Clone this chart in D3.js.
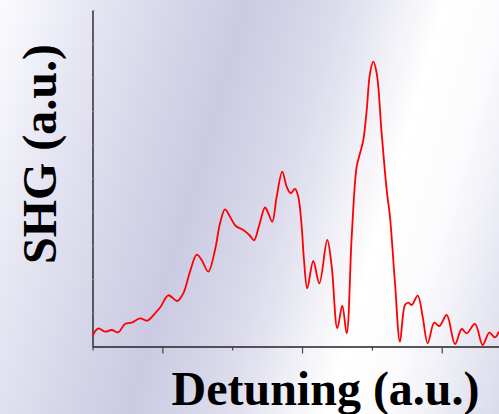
<!DOCTYPE html>
<html>
<head>
<meta charset="utf-8">
<script src="https://cdn.jsdelivr.net/npm/d3@7"></script>
<style>
  html, body { margin: 0; padding: 0; background: #fff; }
  svg { display: block; }
</style>
</head>
<body>
<div id="run"></div>
<script>
var width = 499,
    height = 414;

// detuning positions (a.u.) and SHG signal (a.u.)
var detuning = [0, 0.083, 0.179, 0.275, 0.369, 0.465, 0.561, 0.680, 0.785, 0.895,
    0.976, 1.085, 1.214, 1.300, 1.396, 1.492, 1.563, 1.658, 1.754, 1.826,
    1.897, 1.969, 2.050, 2.159, 2.245, 2.312, 2.388, 2.470, 2.517, 2.574,
    2.637, 2.717, 2.780, 2.838, 2.899, 2.946, 2.995, 3.028, 3.075, 3.161,
    3.247, 3.361, 3.425, 3.505, 3.576, 3.639, 3.711, 3.782, 3.830, 3.877,
    3.926, 3.973, 4.020, 4.069, 4.140, 4.212, 4.259, 4.331, 4.402, 4.474,
    4.521, 4.570, 4.656, 4.727, 4.799, 4.893, 4.965, 5.071, 5.190, 5.286,
    5.357, 5.476, 5.586, 5.681, 5.762, 5.820];

var shg = [0.327, 0.535, 0.440, 0.490, 0.422, 0.669, 0.707, 0.838, 0.767, 0.987,
    1.183, 1.522, 1.352, 1.581, 2.223, 2.728, 2.571, 2.223, 2.868, 3.661,
    4.077, 3.857, 3.581, 3.462, 3.314, 3.156, 3.611, 4.131, 3.958, 3.709,
    4.452, 5.195, 4.749, 4.553, 4.681, 4.452, 3.560, 2.571, 1.730, 2.541,
    1.878, 3.165, 2.371, 0.541, 1.212, 0.392, 3.263, 5.343, 5.741, 6.137,
    7.028, 8.119, 8.464, 8.119, 6.336, 4.651, 3.857, 1.878, 0.143, 1.233,
    1.302, 1.233, 1.510, 0.886, 0.095, 0.707, 0.609, 0.936, 0.074, 0.520,
    0.392, 0.669, 0.045, 0.410, 0.273, 0.440];

var majorTicks = [1, 3, 5],
    minorTicks = [0, 2, 4],
    yTicks = d3.range(0, 11);

var margin = {left: 92.5, top: 10, bottom: 346.5, right: 499};

var x = d3.scaleLinear().domain([0, 5.82]).range([margin.left, margin.right]);
var y = d3.scaleLinear().domain([0, 10]).range([margin.bottom, margin.top]);

var svg = d3.select("#run").append("svg")
    .attr("width", width)
    .attr("height", height);

// diagonal lavender wash behind everything
var grad = svg.append("defs").append("linearGradient")
    .attr("id", "bg")
    .attr("gradientUnits", "userSpaceOnUse")
    .attr("x1", 0).attr("y1", 0)
    .attr("x2", 572).attr("y2", 166);
[[0, "#fbfbfe"], [0.18, "#e2e2f0"], [0.4, "#cacae3"], [0.55, "#dcdcec"],
 [0.72, "#ffffff"], [0.82, "#fbfbfd"], [1, "#dadaeb"]].forEach(function(s) {
    grad.append("stop").attr("offset", s[0]).attr("stop-color", s[1]);
});

svg.append("rect")
    .attr("width", width)
    .attr("height", height)
    .attr("fill", "url(#bg)");

// y axis: ticks on the inside, no labels
var yAxis = svg.append("g")
    .attr("transform", "translate(" + margin.left + ",0)")
    .call(d3.axisRight(y).tickValues(yTicks).tickSize(2).tickSizeOuter(0).tickFormat(""));
yAxis.select(".domain").attr("stroke", "#000").attr("stroke-width", 1.2);
yAxis.selectAll(".tick line").attr("stroke", "#999");

// x axis: alternating long / short ticks
var xMajor = svg.append("g")
    .attr("transform", "translate(0," + margin.bottom + ")")
    .call(d3.axisBottom(x).tickValues(majorTicks).tickSize(7).tickSizeOuter(0).tickFormat(""));
xMajor.select(".domain").attr("stroke", "#222").attr("stroke-width", 1.3);
xMajor.selectAll(".tick line").attr("stroke", "#444").attr("stroke-width", 1.2);

var xMinor = svg.append("g")
    .attr("transform", "translate(0," + margin.bottom + ")")
    .call(d3.axisBottom(x).tickValues(minorTicks).tickSize(4).tickFormat(""));
xMinor.select(".domain").remove();
xMinor.selectAll(".tick line").attr("stroke", "#444").attr("stroke-width", 1.2);

var line = d3.line()
    .x(function(d, i) { return x(detuning[i]); })
    .y(function(d) { return y(d); })
    .curve(d3.curveCatmullRom.alpha(0.5));

svg.append("path")
    .datum(shg)
    .attr("d", line)
    .attr("fill", "none")
    .attr("stroke", "#ff0000")
    .attr("stroke-width", 1.8);

svg.append("text")
    .attr("x", 171.5)
    .attr("y", 405)
    .style("font-family", "'Liberation Serif', 'Times New Roman', serif")
    .style("font-weight", "bold")
    .style("font-size", "48px")
    .text("Detuning (a.u.)");

svg.append("text")
    .attr("transform", "translate(55.5,154) rotate(-90)")
    .attr("text-anchor", "middle")
    .style("font-family", "'Liberation Serif', 'Times New Roman', serif")
    .style("font-weight", "bold")
    .style("font-size", "48px")
    .text("SHG (a.u.)");
</script>
</body>
</html>
